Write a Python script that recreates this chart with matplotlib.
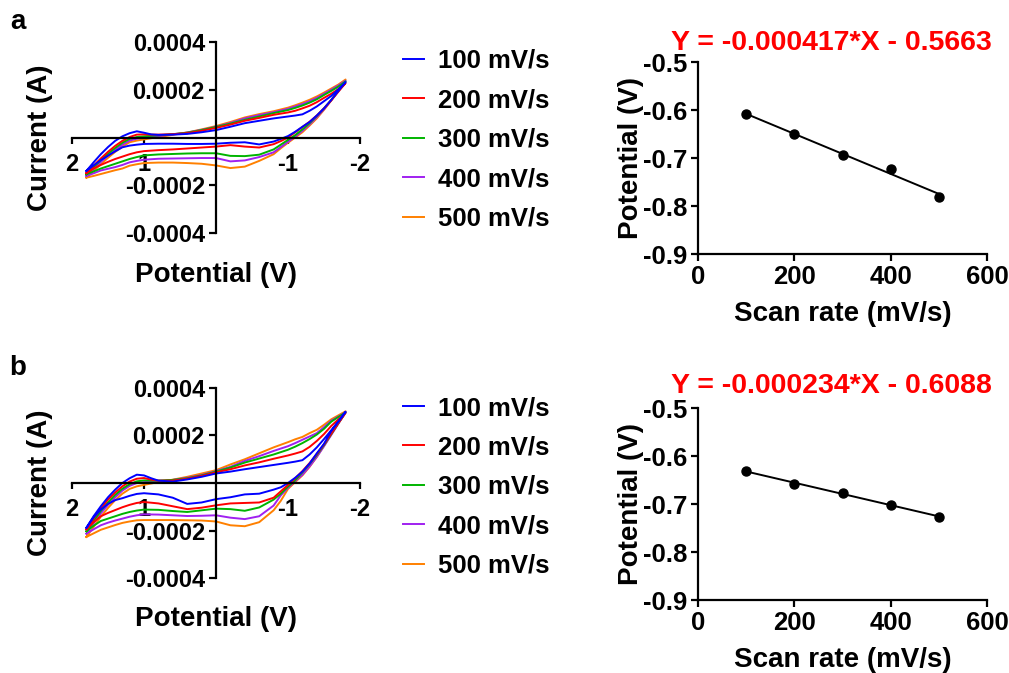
import numpy as np
import matplotlib
matplotlib.use("Agg")
import matplotlib.pyplot as plt

plt.rcParams['font.family'] = ['Liberation Sans', 'DejaVu Sans']
plt.rcParams['font.weight'] = 'bold'
plt.rcParams['axes.unicode_minus'] = False

# ---------------- data ----------------
scan_labels = ["100 mV/s", "200 mV/s", "300 mV/s", "400 mV/s", "500 mV/s"]
colors = ["#0000FF", "#FF0000", "#00B400", "#A020F0", "#FF8000"]

potential_fwd = [1.8, 1.7, 1.6, 1.5, 1.4, 1.3, 1.2, 1.1, 1.0, 0.9, 0.8, 0.6, 0.4, 0.2, 0.0,
                 -0.2, -0.4, -0.6, -0.8, -1.0, -1.1, -1.2, -1.3, -1.4, -1.5, -1.6, -1.7, -1.8]
potential_rev = [-1.8, -1.7, -1.6, -1.5, -1.4, -1.3, -1.2, -1.1, -1.0, -0.9, -0.8, -0.6, -0.4, -0.2, 0.0,
                 0.2, 0.4, 0.6, 0.8, 1.0, 1.1, 1.2, 1.3, 1.4, 1.5, 1.6, 1.7, 1.8]

# panel a currents (microampere)
a_fwd_100 = [-140, -104, -70, -40, -14, 5, 18, 26, 20, 13, 11, 12, 15, 22, 31, 45, 60, 70, 80, 88, 92, 97, 112, 130, 152, 174, 202, 232]
a_fwd_200 = [-149, -118, -88, -60, -35, -14, 2, 12, 13, 12, 12, 14, 18, 28, 40, 54, 70, 82, 95, 105, 112, 122, 133, 148, 166, 183, 203, 228]
a_fwd_300 = [-154, -124, -95, -68, -44, -22, -6, 2, 5, 7, 9, 14, 20, 31, 44, 58, 74, 88, 102, 115, 124, 134, 146, 160, 178, 195, 213, 235]
a_fwd_400 = [-161, -132, -103, -76, -52, -30, -13, -5, 0, 3, 6, 13, 21, 32, 45, 61, 80, 94, 106, 120, 130, 140, 152, 166, 183, 200, 218, 238]
a_fwd_500 = [-168, -140, -112, -85, -60, -38, -20, -13, -8, -3, 2, 11, 21, 34, 48, 65, 84, 98, 110, 125, 135, 146, 158, 172, 188, 205, 222, 243]

a_rev_100 = [232, 195, 157, 122, 92, 65, 45, 24, 6, -6, -17, -29, -20, -22, -26, -27, -27, -26, -26, -27, -30, -34, -41, -58, -76, -95, -117, -140]
a_rev_200 = [228, 192, 155, 122, 92, 66, 44, 22, 0, -15, -28, -42, -38, -32, -38, -42, -46, -50, -53, -57, -62, -70, -80, -90, -102, -115, -130, -149]
a_rev_300 = [235, 195, 157, 122, 90, 60, 34, 10, -10, -30, -50, -72, -78, -77, -66, -66, -67, -69, -71, -75, -82, -90, -100, -110, -120, -130, -142, -154]
a_rev_400 = [238, 196, 156, 118, 85, 55, 28, 4, -18, -40, -62, -82, -96, -100, -86, -86, -87, -88, -89, -93, -98, -104, -115, -124, -131, -138, -150, -161]
a_rev_500 = [243, 198, 155, 116, 80, 50, 22, 0, -22, -45, -70, -98, -122, -128, -117, -110, -107, -105, -105, -107, -112, -118, -130, -137, -145, -153, -161, -168]

# panel b currents (microampere)
b_fwd_100 = [-188, -140, -98, -60, -28, 0, 20, 35, 32, 20, 10, 6, 15, 26, 40, 48, 58, 67, 76, 85, 90, 96, 120, 150, 185, 222, 260, 300]
b_fwd_200 = [-195, -150, -108, -70, -40, -14, 6, 18, 21, 14, 10, 10, 18, 30, 45, 58, 74, 87, 102, 116, 124, 133, 152, 177, 206, 240, 268, 295]
b_fwd_300 = [-203, -160, -118, -82, -50, -24, -5, 7, 11, 10, 10, 13, 20, 32, 48, 65, 86, 103, 120, 140, 153, 168, 185, 204, 228, 258, 278, 297]
b_fwd_400 = [-213, -170, -128, -92, -60, -32, -12, 0, 4, 6, 8, 13, 22, 34, 50, 68, 93, 113, 135, 155, 168, 182, 196, 210, 235, 262, 280, 298]
b_fwd_500 = [-227, -185, -142, -105, -72, -45, -25, -14, -8, -2, 4, 14, 26, 40, 54, 78, 100, 125, 150, 172, 184, 194, 210, 224, 245, 268, 285, 302]

b_rev_100 = [300, 258, 218, 165, 125, 82, 48, 22, 0, -18, -28, -45, -48, -60, -68, -82, -88, -62, -48, -43, -46, -54, -64, -72, -88, -112, -145, -189]
b_rev_200 = [295, 252, 208, 163, 122, 84, 50, 20, -8, -35, -62, -82, -84, -86, -94, -104, -110, -98, -86, -80, -84, -92, -102, -114, -126, -140, -165, -195]
b_rev_300 = [297, 252, 206, 160, 118, 80, 45, 12, -15, -45, -70, -103, -117, -110, -108, -115, -122, -118, -113, -112, -116, -122, -130, -140, -150, -160, -180, -203]
b_rev_400 = [298, 250, 202, 155, 110, 70, 35, 8, -20, -52, -95, -140, -152, -146, -136, -138, -139, -136, -133, -132, -136, -142, -150, -158, -167, -178, -195, -213]
b_rev_500 = [302, 252, 204, 156, 110, 68, 32, 4, -25, -75, -115, -165, -182, -178, -162, -158, -157, -156, -156, -156, -157, -162, -168, -177, -187, -197, -212, -227]

scan_rate = [100, 200, 300, 400, 500]
peak_a = [-0.6085, -0.650, -0.694, -0.723, -0.782]
peak_b = [-0.632, -0.658, -0.677, -0.702, -0.727]
slope_a, intercept_a = -0.000417, -0.5663
slope_b, intercept_b = -0.000234, -0.6088
eq_a = "Y = -0.000417*X - 0.5663"
eq_b = "Y = -0.000234*X - 0.6088"

cv_xticks = [2, 1, -1, -2]
cv_xticklabels = ["2", "1", "-1", "-2"]
cv_yticks = [0.0004, 0.0002, -0.0002, -0.0004]
cv_yticklabels = ["0.0004", "0.0002", "-0.0002", "-0.0004"]
lin_xticks = [0, 200, 400, 600]
lin_yticks = [-0.9, -0.8, -0.7, -0.6, -0.5]
lin_yticklabels = ["-0.9", "-0.8", "-0.7", "-0.6", "-0.5"]

fwd_a = [a_fwd_100, a_fwd_200, a_fwd_300, a_fwd_400, a_fwd_500]
rev_a = [a_rev_100, a_rev_200, a_rev_300, a_rev_400, a_rev_500]
fwd_b = [b_fwd_100, b_fwd_200, b_fwd_300, b_fwd_400, b_fwd_500]
rev_b = [b_rev_100, b_rev_200, b_rev_300, b_rev_400, b_rev_500]

# ---------------- figure ----------------
W, H = 1009, 673
fig = plt.figure(figsize=(W / 100, H / 100), dpi=100)

LABEL_FS = 20
CV_TICK_FS = 17
LIN_TICK_FS = 18.5
LEG_FS = 18.5
EQ_FS = 20.5


def rect(l, t, r, b):
    return [l / W, 1 - b / H, (r - l) / W, (b - t) / H]


def cv_panel(ax, fwds, revs):
    handles = []
    for i in range(4, -1, -1):
        x = list(potential_fwd) + list(potential_rev)
        y = np.array(list(fwds[i]) + list(revs[i])) * 1e-6
        h, = ax.plot(x, y, color=colors[i], lw=1.4, zorder=2 + (4 - i) * 0.01)
        handles.append(h)
    handles = handles[::-1]
    ax.set_xlim(2, -2)
    ax.set_ylim(-0.0004, 0.0004)
    ax.spines['left'].set_position(('data', 0))
    ax.spines['bottom'].set_position(('data', 0))
    ax.spines['top'].set_visible(False)
    ax.spines['right'].set_visible(False)
    for s in ('left', 'bottom'):
        ax.spines[s].set_linewidth(1.6)
    ax.set_xticks(cv_xticks)
    ax.set_xticklabels(cv_xticklabels)
    ax.set_yticks(cv_yticks)
    ax.set_yticklabels(cv_yticklabels)
    ax.tick_params(axis='x', direction='out', length=4, width=1.6, labelsize=CV_TICK_FS, pad=7)
    ax.tick_params(axis='y', direction='out', length=5, width=1.6, labelsize=CV_TICK_FS, pad=3)
    ax.set_facecolor('none')
    ax.set_ylabel("Current (A)", fontsize=LABEL_FS, fontweight='bold')
    ax.yaxis.set_label_coords(-0.065, 0.5)
    ax.set_xlabel("Potential (V)", fontsize=LABEL_FS, fontweight='bold')
    ax.xaxis.set_label_coords(0.5, -0.15)
    return handles


def lin_panel(ax, peaks, slope, intercept, eq, title_y):
    xl = np.array([scan_rate[0], scan_rate[-1]])
    ax.plot(xl, slope * xl + intercept, color='black', lw=1.4, zorder=2)
    ax.plot(scan_rate, peaks, 'o', color='black', ms=6.5, zorder=3)
    ax.set_xlim(0, 600)
    ax.set_ylim(-0.9, -0.5)
    ax.spines['top'].set_visible(False)
    ax.spines['right'].set_visible(False)
    for s in ('left', 'bottom'):
        ax.spines[s].set_linewidth(1.6)
    ax.set_xticks(lin_xticks)
    ax.set_yticks(lin_yticks)
    ax.set_yticklabels(lin_yticklabels)
    ax.tick_params(direction='out', length=5, width=1.6, labelsize=LIN_TICK_FS, pad=3)
    ax.set_ylabel("Potential (V)", fontsize=LABEL_FS, fontweight='bold')
    ax.yaxis.set_label_coords(-0.188, 0.5)
    ax.set_xlabel("Scan rate (mV/s)", fontsize=LABEL_FS, fontweight='bold')
    ax.xaxis.set_label_coords(0.5, -0.245)
    ax.text(0.46, title_y, eq, transform=ax.transAxes, color='#FF0000',
            fontsize=EQ_FS, fontweight='bold', ha='center', va='center')


ax_a = fig.add_axes(rect(72, 42, 360, 233))
ha = cv_panel(ax_a, fwd_a, rev_a)
ax_b = fig.add_axes(rect(72, 388, 360, 578))
hb = cv_panel(ax_b, fwd_b, rev_b)

ax_la = fig.add_axes(rect(698, 62, 987, 254))
lin_panel(ax_la, peak_a, slope_a, intercept_a, eq_a, 1.10)
ax_lb = fig.add_axes(rect(698, 408, 987, 600))
lin_panel(ax_lb, peak_b, slope_b, intercept_b, eq_b, 1.115)

for handles, ytop in ((ha, 49), (hb, 396)):
    fig.legend(handles, scan_labels, loc='upper left',
               bbox_to_anchor=(403 / W, 1 - ytop / H), frameon=False,
               borderpad=0, borderaxespad=0, handlelength=0.8,
               handletextpad=0.55, labelspacing=0.6,
               prop={'size': LEG_FS, 'weight': 'bold'})

fig.text(18 / W, 1 - 22 / H, "a", fontsize=20, fontweight='bold', ha='center', va='center')
fig.text(18 / W, 1 - 368 / H, "b", fontsize=20, fontweight='bold', ha='center', va='center')

fig.savefig("out.png", dpi=100)
